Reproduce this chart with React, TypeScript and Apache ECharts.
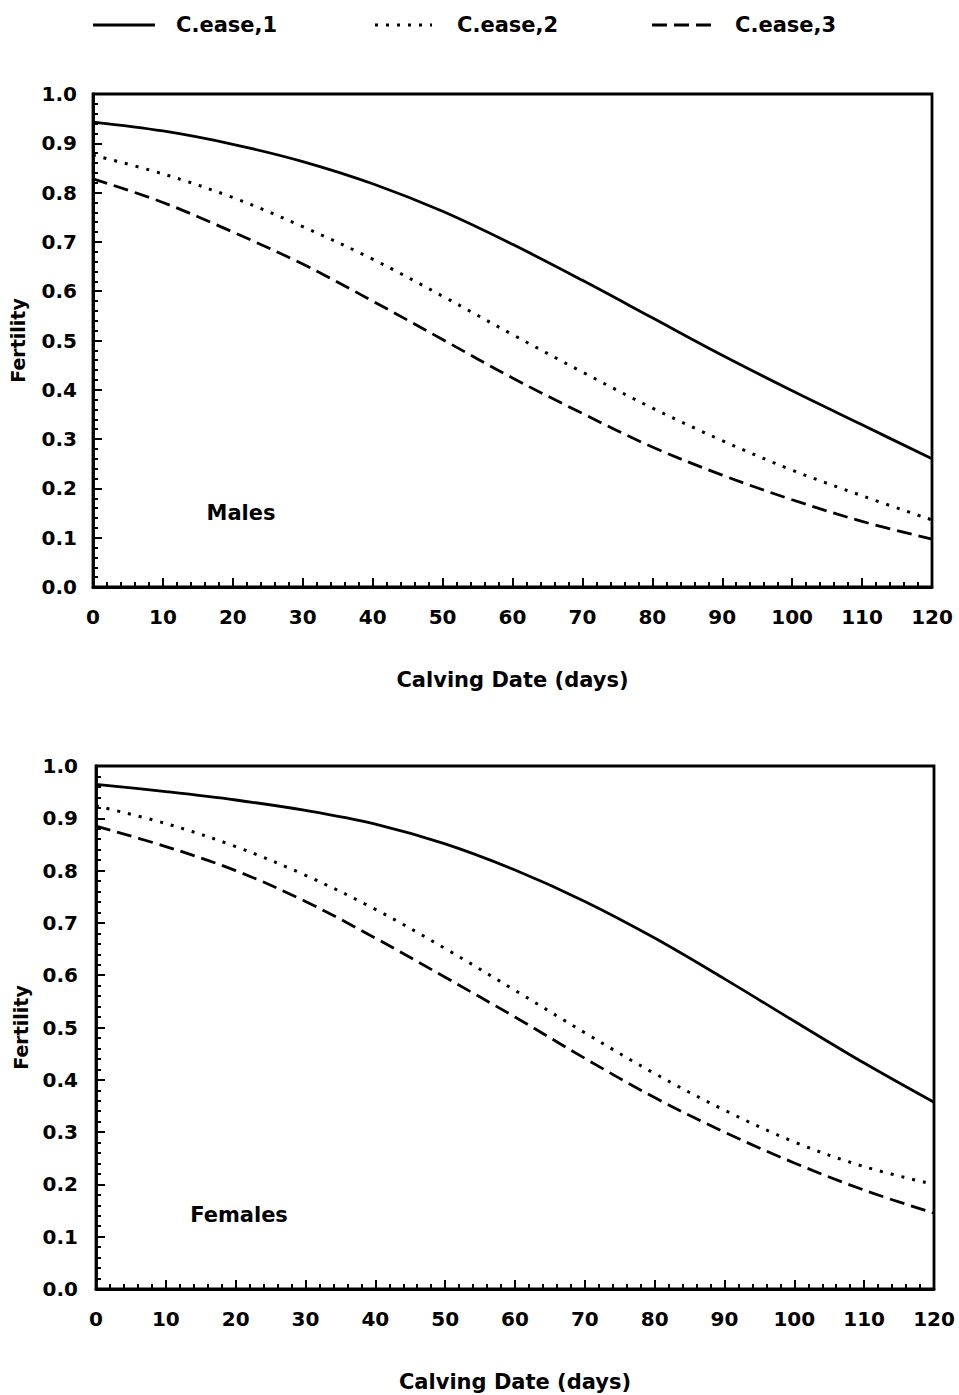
import React, { useEffect, useRef } from "react";
import * as echarts from "echarts";

const days = [0, 10, 20, 30, 40, 50, 60, 70, 80, 90, 100, 110, 120];
const seriesNames = ["C.ease,1", "C.ease,2", "C.ease,3"];

const malesEase1 = [0.943, 0.925, 0.898, 0.863, 0.818, 0.762, 0.695, 0.622, 0.546, 0.47, 0.398, 0.329, 0.26];
const malesEase2 = [0.876, 0.838, 0.79, 0.731, 0.665, 0.59, 0.512, 0.436, 0.363, 0.297, 0.237, 0.185, 0.136];
const malesEase3 = [0.828, 0.78, 0.72, 0.655, 0.58, 0.502, 0.424, 0.352, 0.284, 0.227, 0.177, 0.133, 0.097];

const femalesEase1 = [0.965, 0.951, 0.935, 0.915, 0.889, 0.851, 0.801, 0.741, 0.671, 0.593, 0.512, 0.432, 0.357];
const femalesEase2 = [0.924, 0.89, 0.846, 0.791, 0.726, 0.651, 0.571, 0.49, 0.412, 0.342, 0.281, 0.234, 0.2];
const femalesEase3 = [0.885, 0.846, 0.8, 0.741, 0.671, 0.596, 0.52, 0.441, 0.366, 0.3, 0.241, 0.189, 0.145];

const xTicks = { min: 0, max: 120, interval: 10 };
const yTicks = { min: 0, max: 1, interval: 0.1 };
const panelLabels = ["Males", "Females"];
const xName = "Calving Date (days)";
const yName = "Fertility";

const FONT = "DejaVu Sans";
const lineTypes: any[] = ["solid", [3, 8], [15, 7]];

function pairs(vals: number[]) {
  return days.map((d, i) => [d, vals[i]]);
}

export default function App() {
  const ref = useRef<HTMLDivElement>(null);
  useEffect(() => {
    if (!ref.current) return;
    const chart = echarts.init(ref.current, undefined, { renderer: "svg" });
    const grids = [
      { left: 93, top: 94, width: 839, height: 493 },
      { left: 96, top: 766, width: 838, height: 523 },
    ];
    const axisCommonX = (gi: number) => ({
      type: "value",
      gridIndex: gi,
      min: xTicks.min,
      max: xTicks.max,
      interval: xTicks.interval,
      name: xName,
      nameLocation: "middle",
      nameGap: 82,
      nameTextStyle: { fontFamily: FONT, fontWeight: "bold", fontSize: 21, color: "#000" },
      axisLine: { show: true, lineStyle: { color: "#000", width: 2.8 } },
      axisTick: { show: true, inside: true, length: 9, lineStyle: { color: "#000", width: 2 } },
      minorTick: { show: true, splitNumber: 5, length: 5, lineStyle: { color: "#000", width: 2 } },
      splitLine: { show: false },
      minorSplitLine: { show: false },
      axisLabel: { margin: 20, fontFamily: FONT, fontWeight: "bold", fontSize: 20, color: "#000" },
    });
    const axisCommonY = (gi: number) => ({
      type: "value",
      gridIndex: gi,
      min: yTicks.min,
      max: yTicks.max,
      interval: yTicks.interval,
      name: yName,
      nameLocation: "middle",
      nameGap: 66,
      nameRotate: 90,
      nameTextStyle: { fontFamily: FONT, fontWeight: "bold", fontSize: 19, color: "#000" },
      axisLine: { show: true, lineStyle: { color: "#000", width: 2.8 } },
      axisTick: { show: true, inside: true, length: 9, lineStyle: { color: "#000", width: 2 } },
      minorTick: { show: true, splitNumber: 5, length: 5, lineStyle: { color: "#000", width: 2 } },
      splitLine: { show: false },
      minorSplitLine: { show: false },
      axisLabel: {
        margin: gi === 0 ? 16 : 18,
        fontFamily: FONT,
        fontWeight: "bold",
        fontSize: 20,
        color: "#000",
        formatter: (v: number) => v.toFixed(1),
      },
    });
    const allData = [
      [malesEase1, malesEase2, malesEase3],
      [femalesEase1, femalesEase2, femalesEase3],
    ];
    const series: any[] = [];
    allData.forEach((panel, gi) => {
      panel.forEach((vals, si) => {
        series.push({
          type: "line",
          name: seriesNames[si],
          xAxisIndex: gi,
          yAxisIndex: gi,
          data: pairs(vals),
          smooth: 0.35,
          showSymbol: false,
          symbol: "none",
          lineStyle: { color: "#000", width: si === 1 ? 3 : 2.8, type: lineTypes[si] },
        });
      });
    });

    const legendItems = [
      { x1: 93, x2: 155, tx: 176 },
      { x1: 375, x2: 432, tx: 457 },
      { x1: 652, x2: 713, tx: 735 },
    ];
    const graphic: any[] = [];
    legendItems.forEach((it, i) => {
      graphic.push({
        type: "line",
        shape: { x1: it.x1, y1: 25, x2: it.x2, y2: 25 },
        style: { stroke: "#000", lineWidth: i === 1 ? 3 : 2.8, lineDash: i === 0 ? null : lineTypes[i] },
      });
      graphic.push({
        type: "text",
        x: it.tx,
        y: 25,
        style: {
          text: seriesNames[i],
          fontFamily: FONT,
          fontWeight: "bold",
          fontSize: 21,
          fill: "#000",
          verticalAlign: "middle",
          align: "left",
        },
      });
    });
    const panelPos = [
      { x: 241, y: 513 },
      { x: 239, y: 1215 },
    ];
    panelPos.forEach((p, i) => {
      graphic.push({
        type: "text",
        x: p.x,
        y: p.y,
        style: {
          text: panelLabels[i],
          fontFamily: FONT,
          fontWeight: "bold",
          fontSize: 21,
          fill: "#000",
          align: "center",
          verticalAlign: "middle",
        },
      });
    });

    chart.setOption({
      animation: false,
      backgroundColor: "#fff",
      grid: grids.map((g) => ({ ...g, show: true, borderColor: "#000", borderWidth: 2.8, backgroundColor: "transparent" })),
      xAxis: [axisCommonX(0), axisCommonX(1)],
      yAxis: [axisCommonY(0), axisCommonY(1)],
      series,
      graphic,
    });
    return () => chart.dispose();
  }, []);
  return (
    <div
      ref={ref}
      style={{ position: "absolute", left: 0, top: 0, width: 959, height: 1395 }}
    />
  );
}
